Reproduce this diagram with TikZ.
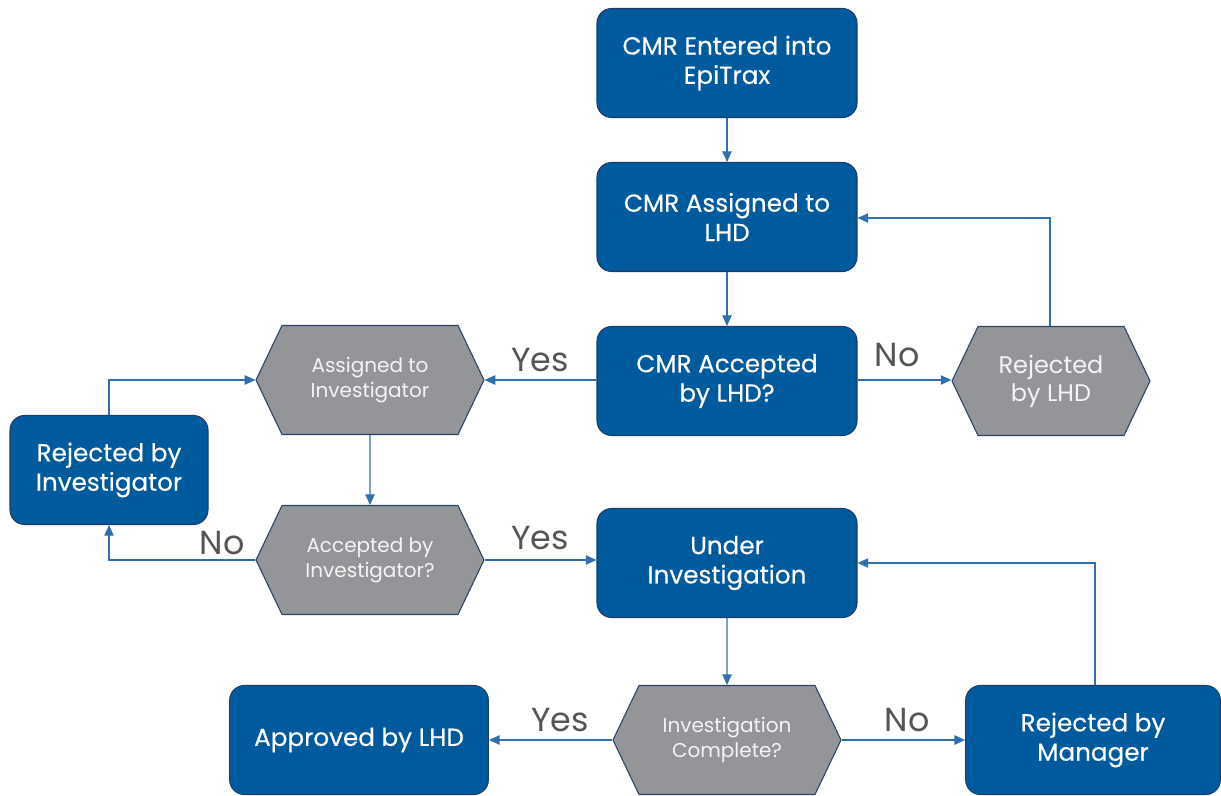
\documentclass[tikz,border=0pt]{standalone}
\usepackage{fontspec}
\setmainfont{Poppins}
\usetikzlibrary{shapes.symbols,arrows.meta}
\definecolor{boxblue}{HTML}{005A9E}
\definecolor{boxedge}{HTML}{1E3C64}
\definecolor{hexgray}{HTML}{939598}
\definecolor{hexedge}{HTML}{2A4468}
\definecolor{hextext}{HTML}{F4F4F4}
\definecolor{linecol}{HTML}{2F6FB0}
\definecolor{labelgray}{HTML}{555555}
\begin{document}
\begin{tikzpicture}[x=0.75pt,y=-0.75pt,
  bluebox/.style={draw=boxedge, fill=boxblue, rounded corners=11pt, text=white, align=center,
    font=\fontsize{18.5}{22}\selectfont\addfontfeature{FakeBold=0.3}, minimum width=195pt, minimum height=81.75pt, line width=0.8pt, inner sep=2pt},
  hexbox/.style={signal, signal to=east and west, signal pointer angle=129, draw=hexedge, fill=hexgray,
    text=hextext, minimum width=171pt, minimum height=81.75pt, align=center, line width=0.8pt,
    font=\fontsize{15}{19}\selectfont, inner sep=2pt},
  conn/.style={draw=linecol, line width=1pt, -{Triangle[length=8pt,width=7pt]}},
  lbl/.style={text=labelgray, font=\fontsize{25}{30}\selectfont, inner sep=0pt}]
\useasboundingbox (0,0) rectangle (1221,796);

\node[bluebox] (entered) at (727,63) {CMR Entered into\\EpiTrax};
\node[bluebox] (assigned) at (727,217) {CMR Assigned to\\LHD};
\node[bluebox] (accepted) at (727,381) {CMR Accepted\\by LHD?};
\node[hexbox] (assinv) at (370,380) {Assigned to\\Investigator};
\node[hexbox, minimum width=148.5pt, font=\fontsize{18}{21}\selectfont] (rejlhd) at (1051,381) {Rejected\\by LHD};
\node[bluebox, minimum width=148.5pt] (rejinv) at (109,470) {Rejected by\\Investigator};
\node[hexbox] (accinv) at (370,560) {Accepted by\\Investigator?};
\node[bluebox] (under) at (727,563) {Under\\Investigation};
\node[hexbox] (complete) at (727,740) {Investigation\\Complete?};
\node[bluebox, minimum width=194pt] (approved) at (359,740) {Approved by LHD};
\node[bluebox, minimum width=191pt] (rejmgr) at (1093,740) {Rejected by\\Manager};

\coordinate (c1) at (1050,218);
\coordinate (c2) at (109,380);
\coordinate (c3) at (109,560);
\coordinate (c4) at (1095,563);

\draw[conn] (entered) -- (assigned);
\draw[conn] (assigned) -- (accepted);
\draw[conn] (accepted.west |- assinv.east) -- (assinv.east);
\draw[conn] (accepted.east |- assinv.east) -- (rejlhd.west |- assinv.east);
\draw[conn] (rejlhd.north -| c1) -- (c1) -- (assigned.east |- c1);
\draw[conn] (assinv) -- (accinv);
\draw[conn] (accinv.west) -- (c3) -- (rejinv.south);
\draw[conn] (rejinv.north) -- (c2) -- (assinv.west);
\draw[conn] (accinv.east) -- (under.west |- accinv.east);
\draw[conn] (under) -- (complete);
\draw[conn] (complete.west) -- (approved.east);
\draw[conn] (complete.east) -- (rejmgr.west);
\draw[conn] (rejmgr.north -| c4) -- (c4) -- (under.east |- c4);

\node[lbl] (y1) at (540,360) {Yes};
\node[lbl] (n1) at (897,355) {No};
\node[lbl] (n2) at (222,543) {No};
\node[lbl] (y2) at (540,538) {Yes};
\node[lbl] (y3) at (560,720) {Yes};
\node[lbl] (n3) at (907,720) {No};
\end{tikzpicture}
\end{document}
